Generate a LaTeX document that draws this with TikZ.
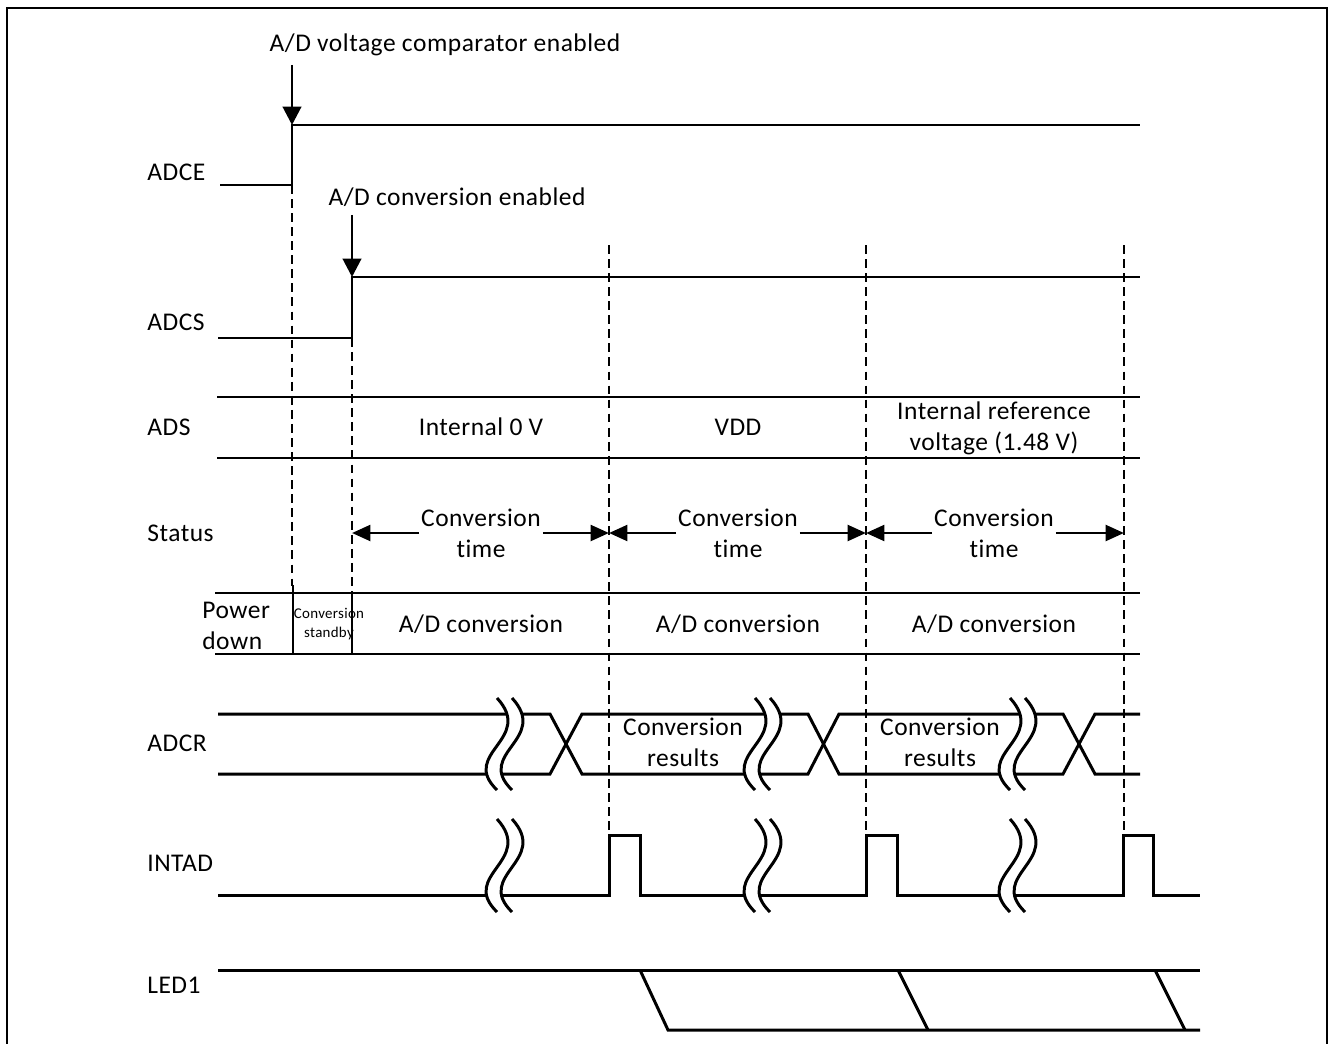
\documentclass[tikz,border=0pt]{standalone}
\usepackage{fontspec}
\setmainfont{Carlito}[Ligatures=NoCommon, LetterSpace=2]
\usetikzlibrary{arrows.meta,positioning,calc}

\tikzset{
  sig/.style={line width=1.7pt},
  guide/.style={line width=1.5pt, dash pattern=on 5pt off 3pt},
  frame/.style={line width=1.6pt},
  lbl/.style={anchor=west, inner sep=0pt, font=\fontsize{14.5}{17.5}\selectfont},
  txt/.style={align=center, inner sep=0pt, font=\fontsize{14.5}{17.5}\selectfont},
  small/.style={align=center, inner sep=0pt, font=\fontsize{8.5}{10.5}\selectfont},
  marker/.style={line width=1.7pt, -{Triangle[length=10.5pt,width=10.5pt]}},
  span/.style={line width=1.7pt, -{Triangle[length=10.5pt,width=9pt]}},
}

% double wavy break: x of first wave, top y, bottom y
\newcommand{\wavebreak}[3]{%
  \fill[white] (#1,#2) .. controls ({#1+38},{#2+0.45*(#3-#2)}) and ({#1-38},{#2+0.6*(#3-#2)}) .. (#1,#3)
    -- ({#1+15},#3) .. controls ({#1+15-38},{#2+0.6*(#3-#2)}) and ({#1+15+38},{#2+0.45*(#3-#2)}) .. ({#1+15},#2) -- cycle;
  \draw[sig] (#1,#2) .. controls ({#1+38},{#2+0.45*(#3-#2)}) and ({#1-38},{#2+0.6*(#3-#2)}) .. (#1,#3);
  \draw[sig] ({#1+15},#2) .. controls ({#1+15+38},{#2+0.45*(#3-#2)}) and ({#1+15-38},{#2+0.6*(#3-#2)}) .. ({#1+15},#3);
}

\begin{document}
\begin{tikzpicture}[x=0.02cm, y=-0.02cm]
\useasboundingbox (0,0) rectangle (1328,1044);
\draw[frame] (7,1044) -- (7,8) -- (1327,8) -- (1327,1044);

% signal names
\node[lbl] (nADCE) at (147,172) {ADCE};
\node[lbl] (nADCS) at (147,322) {ADCS};
\node[lbl] (nADS) at (147,427) {ADS};
\node[lbl] (nStatus) at (147,533) {Status};
\node[lbl, align=left] (nPower) at (202,626) {Power\\down};
\node[lbl] (nADCR) at (147,743) {ADCR};
\node[lbl] (nINTAD) at (147,863) {INTAD};
\node[lbl] (nLED) at (147,985) {LED1};

% ADCE
\coordinate (ceOn) at (292,125);
\draw[sig] (220,185) -- (292,185) -- (ceOn) -- (1140,125);
\node[txt] (vcmp) at (445,45) {A/D voltage comparator enabled};
\draw[marker] (ceOn |- 0,65) -- (ceOn);

% ADCS
\coordinate (csOn) at (352,277);
\draw[sig] (218,338) -- (352,338) -- (csOn) -- (1140,277);
\node[txt] (cven) at (457,197) {A/D conversion enabled};
\draw[marker] (csOn |- 0,215) -- (csOn);

% guide lines
\draw[guide] (292,185) -- (292,586);
\draw[guide] (352,338) -- (352,593);
\foreach \gx in {609,866,1124}
  \draw[guide] (\gx,245) -- (\gx,835);

% ADS
\draw[sig] (217,397) -- (1140,397);
\draw[sig] (217,458) -- (1140,458);
\node[txt] (ads1) at (481,427) {Internal 0 V};
\node[txt] (ads2) at (738,427) {VDD};
\node[txt] (ads3) at (994,428) {Internal reference\\voltage (1.48 V)};

% Status
\node[txt] (ct1) at (481,533) {Conversion\\time};
\node[txt] (ct2) at (738,533) {Conversion\\time};
\node[txt] (ct3) at (994,533) {Conversion\\time};
\draw[span] ([xshift=-1pt]ct1.west) -- (352,533);
\draw[span] ([xshift=1pt]ct1.east) -- (609,533);
\draw[span] ([xshift=-1pt]ct2.west) -- (609,533);
\draw[span] ([xshift=1pt]ct2.east) -- (866,533);
\draw[span] ([xshift=-1pt]ct3.west) -- (866,533);
\draw[span] ([xshift=1pt]ct3.east) -- (1124,533);

% conversion state
\draw[sig] (215,593) -- (1140,593);
\draw[sig] (215,654) -- (1140,654);
\draw[sig] (293,585) -- (293,654);
\draw[sig] (352,593) -- (352,654);
\node[small] (stby) at (329,624) {Conversion\\standby};
\node[txt] (adc1) at (481,624) {A/D conversion};
\node[txt] (adc2) at (738,624) {A/D conversion};
\node[txt] (adc3) at (994,624) {A/D conversion};

% ADCR
\draw[sig] (218,714) -- (550,714) -- (582,774) -- (808,774) -- (839,714) -- (1063,714) -- (1095,774) -- (1140,774);
\draw[sig] (218,774) -- (550,774) -- (582,714) -- (808,714) -- (839,774) -- (1063,774) -- (1095,714) -- (1140,714);
\node[txt] (res1) at (683,742) {Conversion\\results};
\node[txt] (res2) at (940,742) {Conversion\\results};

% INTAD
\draw[sig] (218,895) -- (609,895) -- (609,835) -- (640,835) -- (640,895)
  -- (866,895) -- (866,835) -- (897,835) -- (897,895)
  -- (1123,895) -- (1123,835) -- (1153,835) -- (1153,895) -- (1200,895);

% breaks
\foreach \bx in {497,755,1010} {
  \wavebreak{\bx}{698}{790}
  \wavebreak{\bx}{819}{912}
}

% LED1
\draw[sig] (218,970) -- (1200,970);
\draw[sig] (640,970) -- (668,1030) -- (1200,1030);
\draw[sig] (898,970) -- (928,1030);
\draw[sig] (1155,970) -- (1185,1030);
\end{tikzpicture}
\end{document}
